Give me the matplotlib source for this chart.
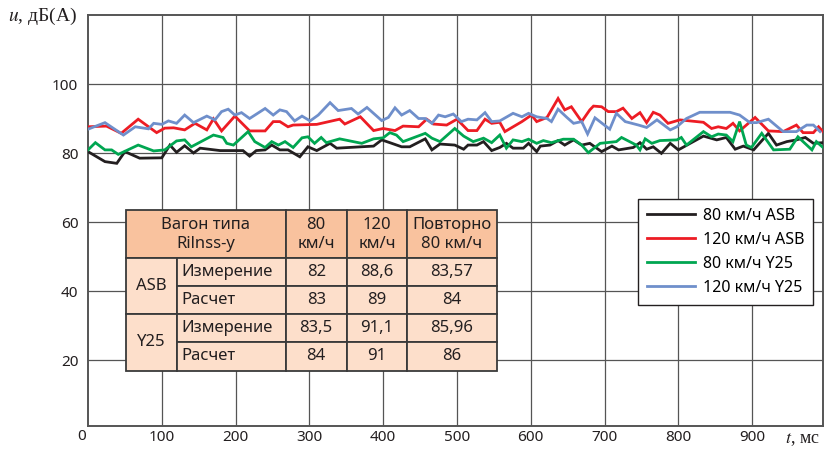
import matplotlib
matplotlib.use("Agg")
import matplotlib.pyplot as plt
from matplotlib.patches import Rectangle

plt.rcParams['font.family'] = ['Noto Sans', 'DejaVu Sans']
plt.rcParams['mathtext.fontset'] = 'stix'

# --- данные ---
x_black = [0, 23, 39, 50, 70, 100, 111, 120, 131, 143, 152, 179, 210, 219, 228, 240, 249, 260, 271, 287, 298, 310,
           328, 337, 387, 398, 409, 425, 436, 457, 466, 477, 497, 509, 515, 527, 536, 547, 558, 567, 576, 590, 597,
           608, 613, 626, 637, 646, 658, 669, 680, 696, 710, 719, 739, 748, 757, 766, 777, 789, 800, 816, 834, 852,
           865, 877, 888, 902, 922, 933, 947, 960, 972, 983, 996]
y_black = [80.4, 77.5, 77.0, 80.4, 78.5, 78.6, 82.3, 80.2, 82.1, 80.0, 81.4, 80.7, 80.7, 79.1, 80.7, 80.9, 82.3, 80.9,
           80.9, 78.9, 81.8, 80.7, 82.8, 81.4, 82.0, 83.8, 83.0, 81.8, 81.8, 84.1, 80.9, 82.6, 82.3, 81.1, 82.3, 82.3,
           83.3, 80.7, 81.6, 82.8, 81.4, 81.4, 82.8, 80.4, 82.0, 82.3, 83.6, 82.3, 83.8, 82.3, 82.8, 80.4, 82.0, 80.9,
           81.6, 83.0, 81.1, 81.8, 79.9, 82.8, 80.9, 82.8, 84.9, 83.8, 84.5, 81.1, 82.0, 80.9, 85.7, 82.3, 83.3, 83.8,
           84.5, 82.8, 83.0]

x_red = [0, 25, 45, 68, 93, 104, 116, 131, 145, 161, 170, 181, 199, 219, 240, 251, 260, 271, 278, 310, 341, 348,
         369, 387, 400, 416, 427, 448, 459, 468, 486, 500, 515, 527, 538, 547, 558, 565, 588, 601, 608, 622, 637,
         646, 655, 669, 680, 685, 696, 705, 716, 725, 737, 748, 757, 766, 775, 786, 802, 834, 845, 854, 865, 874,
         883, 904, 922, 942, 960, 969, 983, 990, 996]
y_red = [87.6, 87.8, 85.7, 89.8, 85.9, 87.2, 87.3, 86.7, 88.6, 86.7, 89.9, 86.4, 90.7, 86.4, 86.4, 89.1, 89.1, 87.6,
         88.1, 88.3, 89.8, 88.4, 90.5, 86.5, 87.1, 86.5, 87.8, 87.6, 89.8, 88.4, 88.1, 89.8, 86.5, 86.5, 89.8, 88.6,
         88.9, 86.2, 89.1, 91.0, 89.1, 90.3, 95.8, 92.5, 93.4, 89.1, 92.5, 93.6, 93.4, 92.0, 92.0, 93.0, 90.0, 91.7,
         88.8, 91.8, 91.0, 88.6, 89.6, 88.9, 87.1, 87.6, 87.1, 88.6, 86.4, 90.3, 86.4, 86.2, 88.1, 85.9, 85.9, 87.6,
         86.2]

x_green = [0, 10, 23, 32, 41, 68, 89, 104, 120, 131, 140, 170, 183, 188, 197, 217, 226, 240, 249, 258, 267, 278,
           290, 298, 307, 316, 323, 341, 371, 387, 400, 409, 418, 427, 457, 466, 477, 497, 509, 522, 536, 547, 558,
           567, 576, 588, 597, 608, 617, 628, 644, 658, 669, 678, 694, 716, 723, 743, 748, 755, 764, 775, 798, 804,
           811, 834, 845, 854, 865, 874, 883, 892, 899, 913, 929, 951, 962, 981, 987, 996]
y_green = [80.9, 83.0, 80.9, 80.9, 79.6, 82.3, 80.6, 80.9, 83.5, 83.8, 81.8, 85.2, 84.5, 82.8, 82.3, 86.2, 83.3, 81.6,
           83.3, 82.3, 83.3, 81.6, 84.4, 84.7, 82.8, 84.5, 83.0, 84.1, 82.8, 84.1, 84.4, 85.9, 85.2, 83.3, 85.7, 84.3,
           83.3, 87.1, 84.9, 83.3, 84.3, 83.0, 85.2, 81.4, 83.8, 83.3, 84.0, 82.8, 83.6, 83.0, 84.0, 84.0, 82.3, 80.1,
           82.8, 83.3, 84.5, 82.3, 80.9, 84.1, 82.8, 83.6, 83.8, 84.5, 82.3, 86.2, 84.7, 85.5, 85.2, 83.3, 89.1, 82.3,
           81.6, 85.7, 80.9, 81.1, 84.7, 80.9, 83.3, 81.6]

x_blue = [0, 23, 48, 64, 82, 89, 100, 109, 120, 131, 143, 161, 172, 181, 190, 199, 208, 219, 240, 251, 260, 269, 280,
          290, 301, 312, 328, 339, 357, 366, 378, 398, 407, 416, 425, 436, 448, 457, 466, 475, 484, 495, 506, 515,
          527, 538, 547, 558, 576, 588, 597, 608, 622, 628, 637, 649, 658, 669, 677, 687, 707, 716, 728, 746, 757,
          771, 789, 798, 811, 829, 870, 883, 897, 906, 922, 942, 960, 974, 983, 992]
y_blue = [86.9, 88.8, 85.2, 87.6, 87.0, 88.6, 88.3, 89.3, 88.6, 91.0, 88.8, 90.7, 89.6, 92.0, 92.7, 91.0, 91.7, 90.0,
          92.9, 91.0, 92.5, 92.0, 89.3, 90.7, 89.3, 91.0, 94.6, 92.3, 92.9, 91.3, 93.2, 89.4, 90.3, 93.1, 91.0, 92.3,
          90.0, 90.0, 88.6, 91.0, 90.5, 91.3, 89.1, 89.8, 89.6, 91.7, 89.1, 89.3, 91.5, 90.5, 91.5, 90.5, 90.0, 89.1,
          92.7, 90.3, 88.6, 89.1, 85.5, 90.2, 86.9, 91.5, 89.1, 88.1, 87.4, 89.6, 86.7, 87.6, 90.0, 91.8, 91.8, 91.0,
          88.8, 88.8, 89.8, 86.2, 86.2, 88.1, 88.1, 86.2]

series_labels = ['80 км/ч ASB', '120 км/ч ASB', '80 км/ч Y25', '120 км/ч Y25']
series_colors = ['#231F20', '#ED1C24', '#00A651', '#6F8FCB']

x_ticks = [100, 200, 300, 400, 500, 600, 700, 800, 900]
y_ticks = [20, 40, 60, 80, 100]

table_header = ['Вагон типа\nRilnss-y', '80\nкм/ч', '120\nкм/ч', 'Повторно\n80 км/ч']
table_groups = ['ASB', 'Y25']
table_kinds = ['Измерение', 'Расчет']
table_values = [['82', '88,6', '83,57'],
                ['83', '89', '84'],
                ['83,5', '91,1', '85,96'],
                ['84', '91', '86']]

# --- рисунок ---
fig = plt.figure(figsize=(8.25, 4.49), dpi=100)
ax = fig.add_axes([88 / 825, 23 / 449, 735 / 825, 411 / 449])

xs = [x_black, x_red, x_green, x_blue]
ys = [y_black, y_red, y_green, y_blue]
for xv, yv, lab, col in zip(xs, ys, series_labels, series_colors):
    ax.plot(xv, yv, color=col, lw=2.0, label=lab, zorder=3, solid_joinstyle='miter')

ax.set_xlim(0, 996)
ax.set_ylim(0.87, 120)
ax.set_xticks(x_ticks)
ax.set_yticks(y_ticks)
ax.tick_params(length=0, labelsize=11, colors='#231F20')
ax.tick_params(axis='x', pad=3)
ax.tick_params(axis='y', pad=7)
ax.grid(True, color='#555555', lw=0.9)
ax.set_axisbelow(True)
for s in ax.spines.values():
    s.set_color('#555555')
    s.set_linewidth(1.4)

# подписи осей
fig.text(82 / 825, 1 - 437 / 449, '0', ha='center', va='center', fontsize=11, color='#231F20')
fig.text(8 / 825, 1 - 16 / 449, r'$u$, дБ(А)', ha='left', va='center', fontsize=14,
         family='Liberation Serif', color='#231F20')
fig.text(785 / 825, 1 - 440 / 449, r'$t$, мс', ha='left', va='center', fontsize=13,
         family='Liberation Serif', color='#231F20')

# таблица
cols = [51, 121, 268, 350.5, 432.7, 553.8]
rows = [63.5, 49.5, 41.4, 33.3, 25.3, 16.9]
head_fc = '#F9C29E'
body_fc = '#FDDFCB'
ec = '#3A3A3A'
tkw = dict(fontsize=12, color='#231F20', zorder=6)


def cell(x0, x1, y0, y1, fc):
    ax.add_patch(Rectangle((x0, y1), x1 - x0, y0 - y1, facecolor=fc, edgecolor=ec,
                           lw=1.3, zorder=5, clip_on=False))


cell(cols[0], cols[2], rows[0], rows[1], head_fc)
ax.text((cols[0] + cols[2]) / 2, (rows[0] + rows[1]) / 2, table_header[0], ha='center', va='center',
        linespacing=1.25, **tkw)
for j in range(3):
    cell(cols[j + 2], cols[j + 3], rows[0], rows[1], head_fc)
    ax.text((cols[j + 2] + cols[j + 3]) / 2, (rows[0] + rows[1]) / 2, table_header[j + 1],
            ha='center', va='center', linespacing=1.25, **tkw)

for g, grp in enumerate(table_groups):
    r0 = rows[1 + 2 * g]
    r2 = rows[3 + 2 * g]
    cell(cols[0], cols[1], r0, r2, body_fc)
    ax.text((cols[0] + cols[1]) / 2, (r0 + r2) / 2, grp, ha='center', va='center', **tkw)
    for k, kind in enumerate(table_kinds):
        ra = rows[1 + 2 * g + k]
        rb = rows[2 + 2 * g + k]
        cell(cols[1], cols[2], ra, rb, body_fc)
        ax.text(cols[1] + 6, (ra + rb) / 2, kind, ha='left', va='center', **tkw)
        for j in range(3):
            cell(cols[j + 2], cols[j + 3], ra, rb, body_fc)
            ax.text((cols[j + 2] + cols[j + 3]) / 2, (ra + rb) / 2, table_values[2 * g + k][j],
                    ha='center', va='center', **tkw)

leg = ax.legend(loc='upper left', bbox_to_anchor=((638 - 88) / 735, (426 - 199) / 411),
                fontsize=11.5, frameon=True, fancybox=False, framealpha=1, edgecolor='#231F20',
                handlelength=3.0, handletextpad=0.5, borderpad=0.55, labelspacing=0.5, borderaxespad=0)
leg.get_frame().set_linewidth(1.0)
leg.set_zorder(7)

fig.savefig('out.png', dpi=100)
